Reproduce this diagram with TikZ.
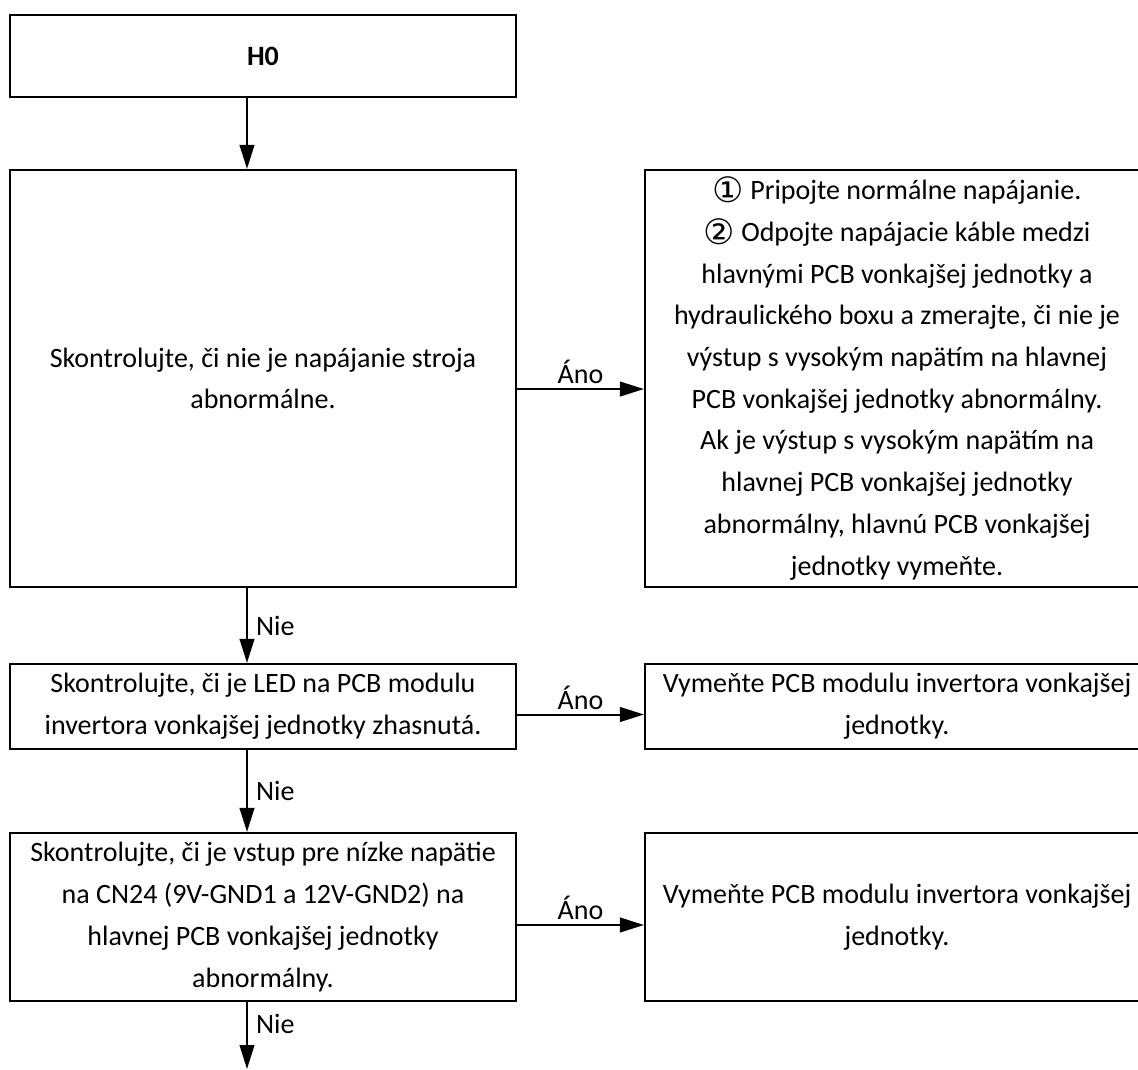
\documentclass[tikz,border=0pt]{standalone}
\usepackage{fontspec}
\setmainfont{Carlito}
\newfontfamily\symfont{DejaVu Sans}
\usetikzlibrary{arrows.meta}
\newcommand{\circnum}[1]{\raisebox{-0.12em}{\scalebox{1.25}{\symfont\char#1}}}
\begin{document}
\begin{tikzpicture}[x=0.75pt,y=-0.75pt,
  box/.style={draw, line width=1.6pt, inner sep=0pt, align=center,
    font=\fontsize{21}{31.3}\selectfont},
  conn/.style={line width=1.5pt, -{Triangle[length=18pt,width=11pt]}},
  lab/.style={font=\fontsize{21}{24}\selectfont, inner sep=1pt}]
\useasboundingbox (0,0) rectangle (1138,1070);
\clip (0,0) rectangle (1138,1070);
\node[box, minimum width=379.5pt, minimum height=61.5pt] (h0) at (263,56) {\textbf{H0}};
\node[box, minimum width=379.5pt, minimum height=312.75pt] (b2) at (263,378.5)
  {Skontrolujte, či nie je napájanie stroja\\abnormálne.};
\node[box, minimum width=378pt, minimum height=312.75pt] (r1) at (897,378.5)
  {\circnum{"2460} Pripojte normálne napájanie.\\
   \circnum{"2461} Odpojte napájacie káble medzi\\
   hlavnými PCB vonkajšej jednotky a\\
   hydraulického boxu a zmerajte, či nie je\\
   výstup s vysokým napätím na hlavnej\\
   PCB vonkajšej jednotky abnormálny.\\
   Ak je výstup s vysokým napätím na\\
   hlavnej PCB vonkajšej jednotky\\
   abnormálny, hlavnú PCB vonkajšej\\
   jednotky vymeňte.};
\node[box, minimum width=379.5pt, minimum height=63.75pt] (b3) at (263,706.5)
  {Skontrolujte, či je LED na PCB modulu\\invertora vonkajšej jednotky zhasnutá.};
\node[box, minimum width=378pt, minimum height=63.75pt] (r2) at (897,706.5)
  {Vymeňte PCB modulu invertora vonkajšej\\jednotky.};
\node[box, minimum width=379.5pt, minimum height=126pt] (b4) at (263,917)
  {Skontrolujte, či je vstup pre nízke napätie\\na CN24 (9V-GND1 a 12V-GND2) na\\hlavnej PCB vonkajšej jednotky\\abnormálny.};
\node[box, minimum width=378pt, minimum height=126pt] (r3) at (897,917)
  {Vymeňte PCB modulu invertora vonkajšej\\jednotky.};
\coordinate (end) at (247,1069);

\draw[conn] ([xshift=-12pt]h0.south) -- ([xshift=-12pt]b2.north);
\draw[conn] ([yshift=-7.9pt]b2.east) -- node[lab, above=2pt]{Áno} ([yshift=-7.9pt]r1.west);
\draw[conn] ([xshift=-12pt]b2.south) -- node[lab, right=5pt]{Nie} ([xshift=-12pt]b3.north);
\draw[conn] ([yshift=-6pt]b3.east) -- node[lab, above=2pt]{Áno} ([yshift=-6pt]r2.west);
\draw[conn] ([xshift=-12pt]b3.south) -- node[lab, right=5pt]{Nie} ([xshift=-12pt]b4.north);
\draw[conn] ([yshift=-6pt]b4.east) -- node[lab, above=2pt]{Áno} ([yshift=-6pt]r3.west);
\draw[conn] ([xshift=-12pt]b4.south) -- node[lab, right=5pt, pos=0.33]{Nie} (end);
\end{tikzpicture}
\end{document}
